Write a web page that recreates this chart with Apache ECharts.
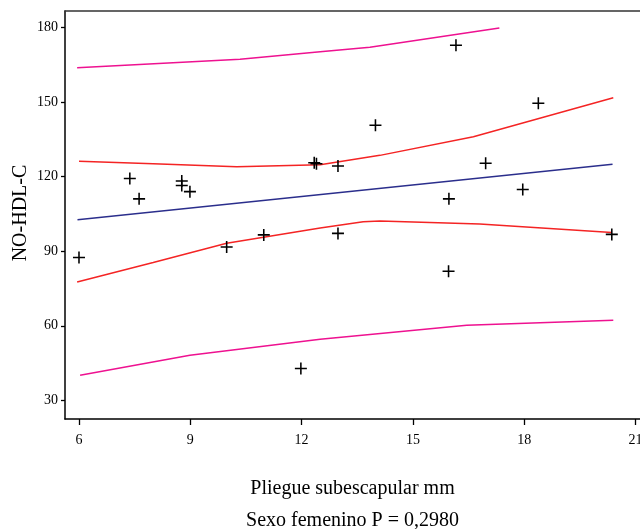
<!DOCTYPE html>
<html>
<head>
<meta charset="utf-8">
<script src="https://cdn.jsdelivr.net/npm/echarts@6/dist/echarts.min.js"></script>
<style>html,body{margin:0;padding:0;background:#fff}#c{width:640px;height:529px}</style>
</head>
<body>
<div id="c"></div>
<script>
// Scatter points (Pliegue subescapular mm, NO-HDL-C)
const pointsX = [6.0, 7.37, 7.62, 8.77, 8.77, 8.99, 9.98, 10.98, 12.34, 12.40, 11.98, 12.98, 12.98, 13.99, 15.96, 15.97, 16.16, 16.96, 17.96, 18.38, 20.36];
const pointsY = [87.5, 119.3, 111.1, 118.3, 116.5, 114.0, 91.7, 96.6, 125.6, 125.2, 42.8, 124.3, 97.2, 140.7, 82.0, 111.1, 172.9, 125.4, 114.9, 149.6, 96.8];

// Regression line
const fitX = [5.96, 20.38];
const fitY = [102.7, 125.0];

// Confidence band (mean) upper / lower
const ciUpX = [6.0, 8.0, 10.25, 12.5, 14.11, 16.63, 20.4];
const ciUpY = [126.2, 125.2, 124.0, 124.8, 128.6, 136.1, 151.8];
const ciLoX = [5.95, 8.0, 9.98, 12.5, 13.66, 14.11, 16.8, 20.36];
const ciLoY = [77.6, 85.5, 93.2, 99.4, 101.9, 102.2, 101.0, 97.6];

// Prediction band upper / lower
const piUpX = [5.95, 10.34, 12.5, 13.84, 17.33];
const piUpY = [163.9, 167.3, 170.3, 172.1, 179.9];
const piLoX = [6.03, 8.99, 12.5, 16.45, 20.4];
const piLoY = [40.1, 48.2, 54.6, 60.2, 62.2];

// Tick labels
const xTicks = [6, 9, 12, 15, 18, 21];
const yTicks = [30, 60, 90, 120, 150, 180];

// Titles
const yTitle = 'NO-HDL-C';
const xTitle = 'Pliegue subescapular mm\nSexo femenino P = 0,2980';

const zip = (xs, ys) => xs.map((x, i) => [x, ys[i]]);
const plus = 'path://M4.35,0H5.65V10H4.35ZM0,4.35H10V5.65H0Z';
const serif = '"Liberation Serif", "DejaVu Serif", serif';

const lineSeries = (xs, ys, color) => ({
  type: 'line', data: zip(xs, ys), showSymbol: false, smooth: false,
  lineStyle: { color: color, width: 1.5 }, silent: true, z: 2
});

const chart = echarts.init(document.getElementById('c'), null, { renderer: 'canvas' });
chart.setOption({
  animation: false,
  backgroundColor: '#fff',
  grid: { left: 65, right: 0, top: 11, bottom: 110, containLabel: false, outerBoundsMode: 'none' },
  graphic: [{
    type: 'text', x: 21, y: 213, rotation: Math.PI / 2,
    style: { text: yTitle, fill: '#000', font: '20px ' + serif, align: 'center', verticalAlign: 'middle' }
  }],
  xAxis: [{
    type: 'value', min: 5.623, max: 21.12,
    splitLine: { show: false },
    axisLine: { show: true, onZero: false, lineStyle: { color: '#000', width: 1.5 } },
    axisTick: { show: true, length: 6, customValues: xTicks, lineStyle: { color: '#000', width: 1.3 } },
    axisLabel: { customValues: xTicks, color: '#000', fontFamily: serif, fontSize: 14, margin: 14, hideOverlap: false },
    name: xTitle,
    nameLocation: 'middle', nameGap: 54, nameMoveOverlap: false,
    nameTextStyle: { color: '#000', fontFamily: serif, fontSize: 20, lineHeight: 32 }
  }, {
    type: 'value', position: 'top', min: 5.623, max: 21.12,
    splitLine: { show: false }, axisTick: { show: false }, axisLabel: { show: false },
    axisLine: { show: true, onZero: false, lineStyle: { color: '#333', width: 1.5 } }
  }],
  yAxis: {
    type: 'value', min: 22.5, max: 186.7,
    splitLine: { show: false },
    axisLine: { show: true, onZero: false, lineStyle: { color: '#000', width: 1.5 } },
    axisTick: { show: true, length: 4, customValues: yTicks, lineStyle: { color: '#000', width: 1.3 } },
    axisLabel: { customValues: yTicks, color: '#000', fontFamily: serif, fontSize: 14, margin: 7 }
  },
  series: [
    lineSeries(piUpX, piUpY, '#ee1190'),
    lineSeries(piLoX, piLoY, '#ee1190'),
    lineSeries(ciUpX, ciUpY, '#f42424'),
    lineSeries(ciLoX, ciLoY, '#f42424'),
    lineSeries(fitX, fitY, '#2b2e8c'),
    {
      type: 'scatter', data: zip(pointsX, pointsY), symbol: plus, symbolSize: 12,
      itemStyle: { color: '#000', opacity: 1 }, z: 3
    }
  ]
});
</script>
</body>
</html>
